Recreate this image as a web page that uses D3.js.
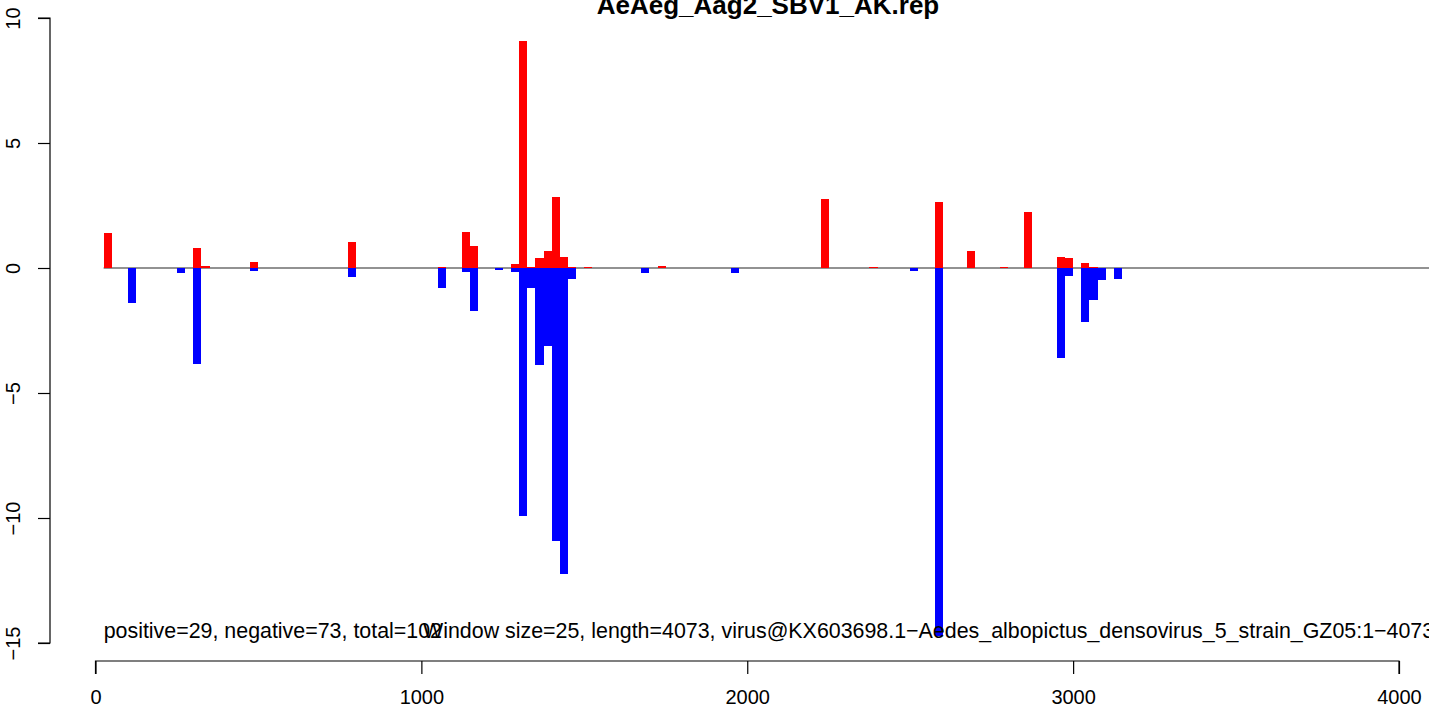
<!DOCTYPE html>
<html>
<head>
<meta charset="utf-8">
<script src="https://cdn.jsdelivr.net/npm/d3@7"></script>
<style>
  html, body { margin: 0; padding: 0; background: #fff; }
  svg { display: block; }
  text { font-family: "Liberation Sans", Arial, Helvetica, sans-serif; }
</style>
</head>
<body>
<svg id="chart" width="1429" height="710"></svg>
<script>
// ---- data ----
const title = "AeAeg_Aag2_SBV1_AK.rep";
const windowSize = 25;
const posStarts = [25, 300, 325, 475, 775, 1050, 1125, 1150, 1275, 1300, 1325, 1350, 1375, 1400, 1425, 1450, 1500, 1725, 2225, 2375, 2575, 2675, 2775, 2850, 2950, 2975, 3025, 3050];
const posValues = [1.4, 0.8, 0.1, 0.24, 1.04, 0.04, 1.44, 0.88, 0.16, 9.08, 0.04, 0.4, 0.68, 2.86, 0.43, 0.04, 0.04, 0.08, 2.76, 0.04, 2.64, 0.68, 0.04, 2.24, 0.44, 0.4, 0.2, 0.04];
const negStarts = [100, 250, 300, 475, 775, 1050, 1125, 1150, 1225, 1275, 1300, 1325, 1350, 1375, 1400, 1425, 1450, 1675, 1950, 2500, 2575, 2950, 2975, 3025, 3050, 3075, 3125];
const negValues = [-1.4, -0.2, -3.84, -0.12, -0.36, -0.8, -0.16, -1.7, -0.09, -0.16, -9.92, -0.8, -3.87, -3.1, -10.92, -12.25, -0.44, -0.2, -0.2, -0.12, -14.72, -3.59, -0.31, -2.15, -1.27, -0.47, -0.43];
const xTicks = [0, 1000, 2000, 3000, 4000];
const yTicks = [-15, -10, -5, 0, 5, 10];
const leftNote = "positive=29, negative=73, total=102";
const rightNote = "Window size=25, length=4073, virus@KX603698.1\u2212Aedes_albopictus_densovirus_5_strain_GZ05:1\u22124073";

// ---- layout ----
const svg = d3.select("#chart");
const x = d3.scaleLinear().domain([0, 4000]).range([95.5, 1399]);
const y = d3.scaleLinear().domain([-15, 10]).range([643, 18]);
const yAxisX = 50;
const xAxisY = 661;
const titleCenter = 768;

// zero line
svg.append("line")
  .attr("x1", x(25)).attr("x2", x(4110))
  .attr("y1", y(0)).attr("y2", y(0))
  .attr("stroke", "#6e6e6e").attr("stroke-width", 1.5);

// bars
const pos = posStarts.map((s, i) => ({s, v: posValues[i]}));
const neg = negStarts.map((s, i) => ({s, v: negValues[i]}));
svg.append("g").selectAll("rect").data(pos).join("rect")
  .attr("x", d => x(d.s)).attr("width", d => x(d.s + windowSize) - x(d.s))
  .attr("y", d => y(d.v)).attr("height", d => y(0) - y(d.v))
  .attr("fill", "#ff0000").attr("shape-rendering", "crispEdges");
svg.append("g").selectAll("rect").data(neg).join("rect")
  .attr("x", d => x(d.s)).attr("width", d => x(d.s + windowSize) - x(d.s))
  .attr("y", y(0)).attr("height", d => y(d.v) - y(0))
  .attr("fill", "#0000ff").attr("shape-rendering", "crispEdges");

// x axis
const xAxis = d3.axisBottom(x).tickValues(xTicks).tickSize(13).tickFormat(d3.format("d"));
const gx = svg.append("g").attr("transform", `translate(0,${xAxisY})`).call(xAxis);
gx.select(".domain").attr("stroke", "#000").attr("stroke-width", 1.2).attr("d", `M${x(0)},13V0H${x(4000)}V13`);
gx.selectAll(".tick line").attr("stroke", "#000").attr("stroke-width", 1.2);
gx.selectAll(".tick text").attr("font-size", 20).attr("fill", "#000").attr("dy", null).attr("y", 43);

// y axis
const yAxis = d3.axisLeft(y).tickValues(yTicks).tickSize(12)
  .tickFormat(d => d < 0 ? "\u2212" + Math.abs(d) : String(d));
const gy = svg.append("g").attr("transform", `translate(${yAxisX},0)`).call(yAxis);
gy.select(".domain").attr("stroke", "#000").attr("stroke-width", 1.2).attr("d", `M-12,${y(-15)}H0V${y(10)}H-12`);
gy.selectAll(".tick line").attr("stroke", "#000").attr("stroke-width", 1.2);
gy.selectAll(".tick text")
  .attr("font-size", 20).attr("fill", "#000")
  .attr("x", null).attr("dy", null)
  .attr("text-anchor", "middle")
  .attr("transform", "translate(-30,0) rotate(-90)");

// title
svg.append("text").attr("x", titleCenter).attr("y", 14)
  .attr("text-anchor", "middle").attr("font-size", 26).attr("font-weight", "bold")
  .text(title);

// notes
svg.append("text").attr("x", x(25)).attr("y", y(-14.8))
  .attr("font-size", 21.4).text(leftNote);
svg.append("text").attr("x", x(1005)).attr("y", y(-14.8))
  .attr("font-size", 21.4).text(rightNote);
</script>
</body>
</html>
